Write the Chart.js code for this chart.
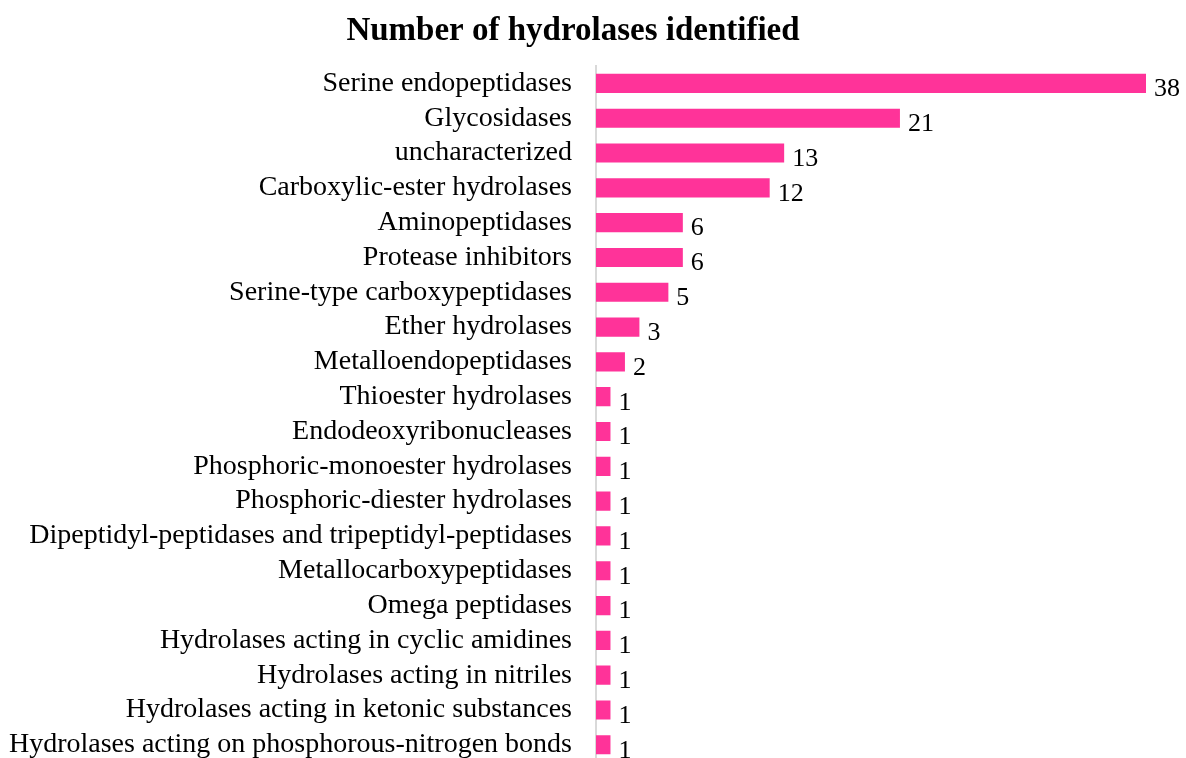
<!DOCTYPE html>
<html>
<head>
<meta charset="utf-8">
<script src="https://cdn.jsdelivr.net/npm/chart.js@4.4.0/dist/chart.umd.min.js"></script>
<style>
  html, body { margin: 0; padding: 0; background: #fff; overflow: hidden; }
  canvas { display: block; }
</style>
</head>
<body>
<canvas id="myChart" width="1186" height="803"></canvas>
<script>
  var categories = [
      "Serine endopeptidases",
      "Glycosidases",
      "uncharacterized",
      "Carboxylic-ester hydrolases",
      "Aminopeptidases",
      "Protease inhibitors",
      "Serine-type carboxypeptidases",
      "Ether hydrolases",
      "Metalloendopeptidases",
      "Thioester hydrolases",
      "Endodeoxyribonucleases",
      "Phosphoric-monoester hydrolases",
      "Phosphoric-diester hydrolases",
      "Dipeptidyl-peptidases and tripeptidyl-peptidases",
      "Metallocarboxypeptidases",
      "Omega peptidases",
      "Hydrolases acting in cyclic amidines",
      "Hydrolases acting in nitriles",
      "Hydrolases acting in ketonic substances",
      "Hydrolases acting on phosphorous-nitrogen bonds"
  ];
  var counts = [38, 21, 13, 12, 6, 6, 5, 3, 2, 1, 1, 1, 1, 1, 1, 1, 1, 1, 1, 1];

  var serif = '"Liberation Serif", "Times New Roman", serif';

  // numbers written just right of each bar
  var valueLabels = {
      id: 'valueLabels',
      afterDatasetsDraw: function (chart) {
          var ctx = chart.ctx;
          var meta = chart.getDatasetMeta(0);
          ctx.save();
          ctx.font = '26px ' + serif;
          ctx.fillStyle = '#000';
          ctx.textAlign = 'left';
          ctx.textBaseline = 'middle';
          meta.data.forEach(function (bar, i) {
              ctx.fillText(String(counts[i]), bar.x + 8, bar.y + 6);
          });
          ctx.restore();
      }
  };

  var chartdata = {
      labels: categories,
      datasets: [
          {
              data: counts,
              backgroundColor: '#ff3399',
              borderWidth: 0,
              barPercentage: 0.55,
              categoryPercentage: 1.0
          }
      ]
  };

  var graphTarget = document.getElementById('myChart');
  var barGraph = new Chart(graphTarget, {
      type: 'bar',
      data: chartdata,
      plugins: [valueLabels],
      options: {
          indexAxis: 'y',
          responsive: false,
          animation: false,
          devicePixelRatio: 1,
          layout: { padding: { left: 0, right: 40, top: 0, bottom: 0 } },
          plugins: {
              legend: { display: false },
              tooltip: { enabled: false },
              title: {
                  display: true,
                  text: 'Number of hydrolases identified',
                  color: '#000',
                  font: { family: serif, size: 33, weight: 'bold', lineHeight: 1.2 },
                  padding: { top: 12, bottom: 14.4 }
              }
          },
          scales: {
              x: {
                  display: false,
                  min: 0,
                  max: 38
              },
              y: {
                  afterFit: function (scale) { scale.width = 596; },
                  grid: { display: false, drawTicks: false },
                  border: { display: true, color: '#d9d9d9', width: 2 },
                  ticks: {
                      autoSkip: false,
                      padding: 24,
                      color: '#000',
                      font: { family: serif, size: 28 }
                  }
              }
          }
      }
  });
</script>
</body>
</html>
